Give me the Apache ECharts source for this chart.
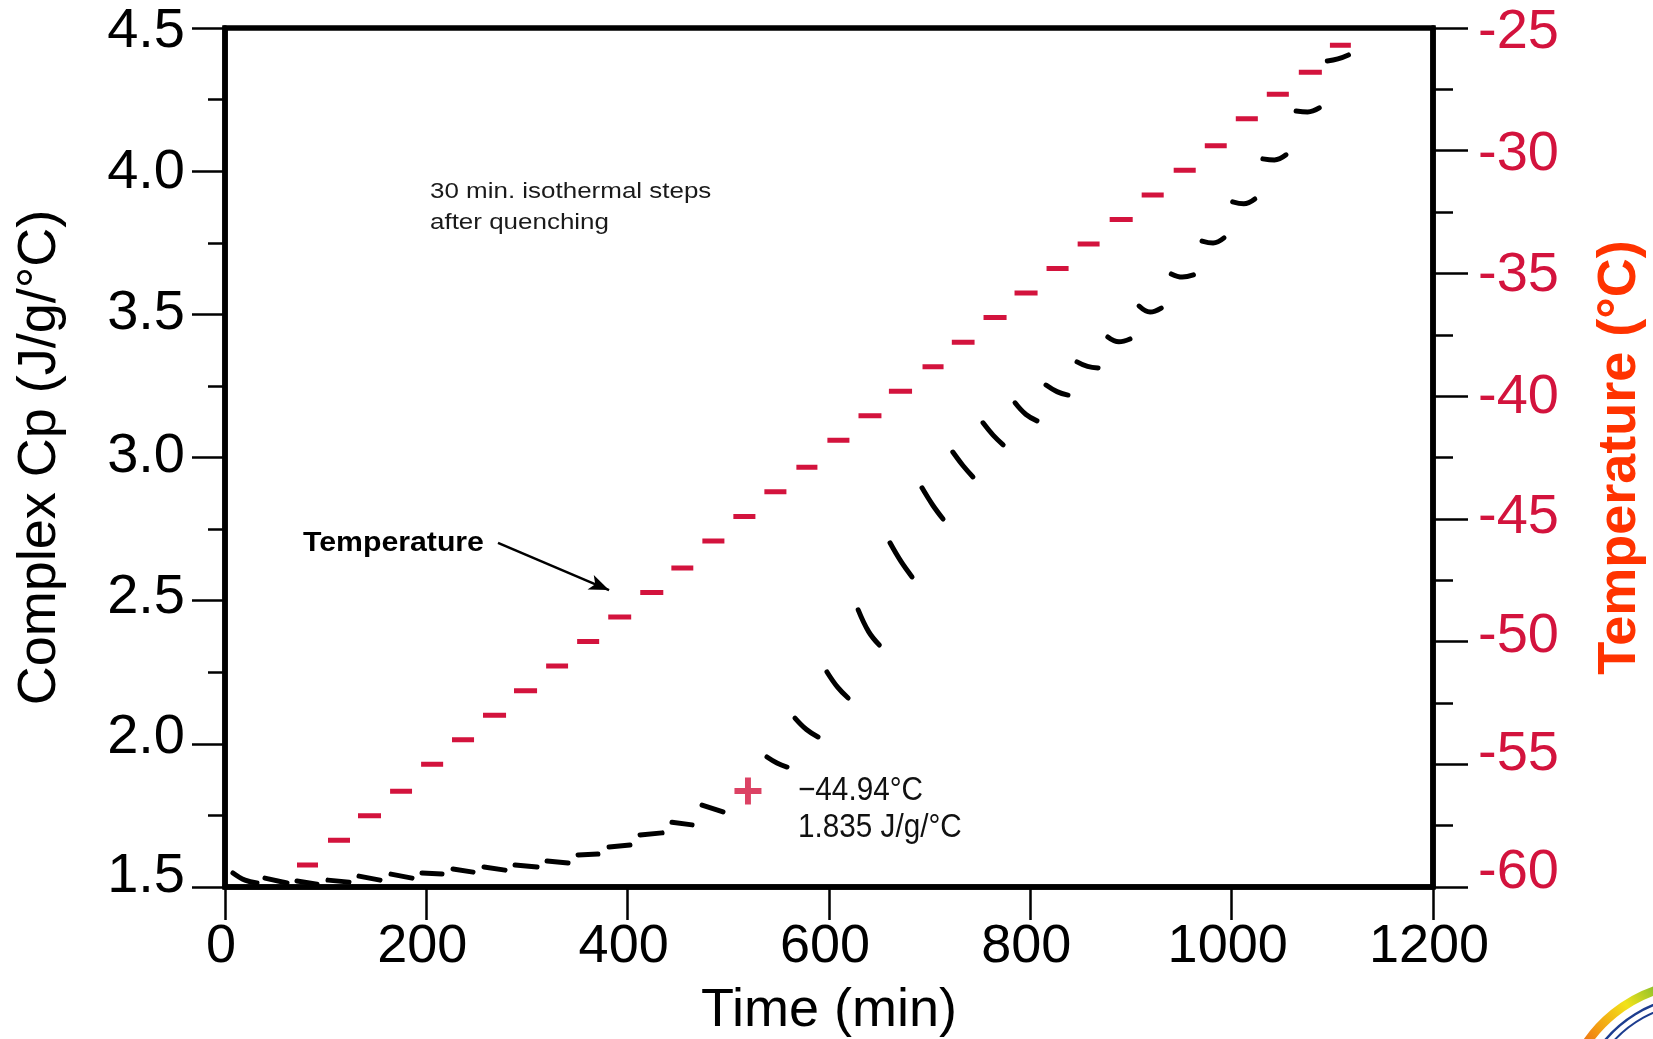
<!DOCTYPE html>
<html><head><meta charset="utf-8">
<script src="https://cdn.jsdelivr.net/npm/echarts@6/dist/echarts.min.js"></script>
<style>html,body{margin:0;padding:0;background:#fff}#c{width:1653px;height:1039px}</style>
</head><body><div id="c"></div>
<script>
const FONT = '"Liberation Sans", Arial, Helvetica, sans-serif';
const RED = '#d3133d';
const TITLE_RED = '#ff3300';

// Temperature steps (red dashes): start time, end time (min), temperature (°C)
const tempStart = [71.5,102.3,132.1,164.0,194.8,225.5,256.3,287.1,319.0,349.8,380.7,412.5,443.4,474.2,505.0,535.8,567.6,598.4,629.3,659.5,692.9,722.0,753.5,784.3,816.1,847.0,878.8,910.6,942.4,973.3,1004.1,1034.9,1066.7,1097.6];
const tempEnd   = [92.4,124.2,155.0,185.8,216.7,247.4,279.2,310.0,340.8,371.7,403.5,435.4,465.2,496.1,526.9,557.7,588.5,620.3,652.1,682.5,713.8,744.6,776.4,807.2,838.0,868.8,901.7,932.5,964.3,995.1,1026.0,1056.8,1089.6,1118.4];
const tempC     = [-59.1,-58.1,-57.1,-56.1,-55.0,-54.0,-53.0,-52.0,-51.0,-50.0,-49.0,-48.0,-47.0,-45.9,-44.9,-43.9,-42.9,-41.8,-40.8,-39.8,-38.8,-37.8,-36.8,-35.8,-34.8,-33.8,-32.8,-31.8,-30.8,-29.8,-28.7,-27.7,-26.8,-25.7];

// Complex Cp segments (one per isothermal step): times (min) and values (J/g/°C)
const cpSegTimes = [
 [7.9,19.9,31.8],[39.7,61.6],[71.5,91.4],[102.3,123.2],[133.1,154.0],[164.9,185.8],[195.7,215.6],
 [226.5,246.4],[257.3,278.2],[288.1,310.0],[319.9,340.8],[350.7,370.5],[381.5,402.3],[412.3,434.2],
 [444.0,464.0],[473.9,494.7],[538.4,548.3,558.3],[566.2,577.6,589.1],[598.0,608.5,619.0],
 [629.0,639.5,650.0],[660.6,671.5,682.5],[692.4,702.8,713.3],[723.0,733.0,743.0],[753.0,763.0,773.0],
 [784.8,795.7,806.6],[815.6,826.5,837.4],[846.4,856.8,867.3],[877.0,888.0,899.0],[908.0,919.0,930.0],
 [940.0,951.0,962.0],[970.6,981.5,992.4],[1001.0,1012.0,1023.0],[1031.0,1042.5,1054.0],
 [1064.0,1075.5,1087.0],[1095.0,1105.5,1116.0]
];
const cpSegValues = [
 [1.549,1.524,1.514],[1.531,1.514],[1.521,1.510],[1.524,1.517],[1.538,1.524],[1.545,1.531],[1.549,1.545],
 [1.563,1.552],[1.570,1.559],[1.577,1.570],[1.591,1.584],[1.612,1.615],[1.640,1.647],[1.682,1.689],
 [1.726,1.717],[1.786,1.762],[1.954,1.933,1.919],[2.090,2.050,2.024],[2.251,2.198,2.160],
 [2.468,2.391,2.345],[2.702,2.637,2.583],[2.894,2.835,2.785],[3.019,2.972,2.932],[3.121,3.078,3.044],
 [3.191,3.150,3.128],[3.253,3.230,3.218],[3.334,3.318,3.313],[3.421,3.404,3.414],[3.529,3.508,3.522],
 [3.641,3.630,3.638],[3.756,3.749,3.767],[3.893,3.886,3.903],[4.043,4.039,4.057],
 [4.210,4.207,4.221],[4.385,4.392,4.406]
];

// Tick values of the two vertical axes
const cpTicks = [1.5, 2.0, 2.5, 3.0, 3.5, 4.0, 4.5];
const tempTicks = [-60, -55, -50, -45, -40, -35, -30, -25];
// Vertical nudge of each tick label in the reference (px, + = down)
const cpLabelNudge = [-10, -6, -3, -1, -1, 1, 4];
const tempLabelNudge = [-14, -10, -5, -1, 1, 2, 4, 5];

// Cursor point and annotation arrow (data coordinates)
const cursorPoint = [519.5, 1.835];
const cursorText = ['\u221244.94\u00B0C', '1.835 J/g/\u00B0C'];
const arrowFrom = [271.2, 2.702];
const arrowTo = [381.5, 2.537];

const GRID_H = 859;
const cpPerPx = (4.5 - 1.5) / GRID_H;
const tempPerPx = (-25 - -60) / GRID_H;
const cpLabelPos = cpTicks.map((v, i) => v - cpLabelNudge[i] * cpPerPx);
const tempLabelPos = tempTicks.map((v, i) => v - tempLabelNudge[i] * tempPerPx);

const tempData = [];
tempStart.forEach((s, i) => {
  tempData.push([s, tempC[i]], [tempEnd[i], tempC[i]], [tempEnd[i], null]);
});
const cpData = [];
cpSegTimes.forEach((ts, i) => {
  ts.forEach((t, j) => cpData.push([t, cpSegValues[i][j]]));
  cpData.push([ts[ts.length - 1], null]);
});

const chart = echarts.init(document.getElementById('c'), null, {renderer: 'canvas'});
const option = {
  animation: false,
  backgroundColor: '#fff',
  textStyle: {fontFamily: FONT},
  grid: {left: 225, top: 28, right: 220, bottom: 152, show: true, borderColor: '#000', borderWidth: 5.5,
         backgroundColor: '#fff', containLabel: false, outerBoundsMode: 'none'},
  xAxis: {
    type: 'value', min: 0, max: 1200, interval: 200,
    name: 'Time (min)', nameLocation: 'middle', nameGap: 97, nameMoveOverlap: false,
    nameTextStyle: {fontSize: 54, color: '#000', fontFamily: FONT},
    axisLine: {show: true, onZero: false, lineStyle: {color: '#000', width: 5.5}},
    axisTick: {show: true, inside: false, length: 33, lineStyle: {color: '#000', width: 2.5}},
    minorTick: {show: false},
    axisLabel: {margin: 33, fontSize: 54, color: '#000', fontFamily: FONT, padding: [0, 8, 0, 0],
                formatter: v => String(v), showMinLabel: true, showMaxLabel: true},
    splitLine: {show: false}
  },
  yAxis: [{
    type: 'value', min: 1.5, max: 4.5, interval: 0.5, position: 'left',
    name: 'Complex Cp (J/g/\u00B0C)', nameLocation: 'middle', nameGap: 158, nameMoveOverlap: false,
    nameTextStyle: {fontSize: 54, color: '#000', fontFamily: FONT},
    axisLine: {show: true, onZero: false, lineStyle: {color: '#000', width: 5.5}},
    axisTick: {show: true, inside: false, length: 33, customValues: cpTicks, lineStyle: {color: '#000', width: 2.5}},
    minorTick: {show: true, splitNumber: 2, length: 17, lineStyle: {color: '#000', width: 2.5}},
    axisLabel: {margin: 40, fontSize: 56, color: '#000', fontFamily: FONT, customValues: cpLabelPos,
                formatter: v => (Math.round(v * 2) / 2).toFixed(1)},
    splitLine: {show: false}, minorSplitLine: {show: false}
  }, {
    type: 'value', min: -60, max: -25, interval: 5, position: 'right',
    name: 'Temperature (\u00B0C)', nameLocation: 'middle', nameGap: 160, nameMoveOverlap: false,
    nameTextStyle: {fontSize: 54, fontWeight: 'bold', color: TITLE_RED, fontFamily: FONT},
    axisLine: {show: true, onZero: false, lineStyle: {color: '#000', width: 5.5}},
    axisTick: {show: true, inside: false, length: 35, customValues: tempTicks, lineStyle: {color: '#000', width: 2.5}},
    minorTick: {show: true, splitNumber: 2, length: 20, lineStyle: {color: '#000', width: 2.5}},
    axisLabel: {margin: 45, fontSize: 56, color: RED, fontFamily: FONT, customValues: tempLabelPos,
                formatter: v => String(Math.round(v / 5) * 5)},
    splitLine: {show: false}, minorSplitLine: {show: false}
  }],
  series: [{
    name: 'Cp', type: 'line', yAxisIndex: 0, data: cpData, showSymbol: false, symbol: 'none',
    smooth: 0.4, connectNulls: false, z: 3,
    lineStyle: {color: '#000', width: 5, cap: 'round'},
    markLine: {
      silent: true, symbol: ['none', 'arrow'], symbolSize: [12, 20], precision: 4,
      lineStyle: {color: '#000', width: 2.5, type: 'solid'}, label: {show: false},
      data: [[{coord: arrowFrom}, {coord: arrowTo}]]
    }
  }, {
    name: 'Temperature', type: 'line', yAxisIndex: 1, data: tempData, showSymbol: false, symbol: 'none',
    connectNulls: false, z: 3,
    lineStyle: {color: RED, width: 5, cap: 'butt'}
  }, {
    name: 'cursor', type: 'scatter', yAxisIndex: 0, data: [cursorPoint], z: 5,
    symbol: 'path://M0,39 L100,39 L100,61 L0,61 Z M39,0 L61,0 L61,100 L39,100 Z',
    symbolSize: 27, itemStyle: {color: RED}
  }],
  graphic: [
    {type: 'text', x: 430, y: 176, scaleX: 1.18, z: 10,
     style: {text: '30 min. isothermal steps\nafter quenching', fontSize: 22, fontFamily: FONT, lineHeight: 31, fill: '#1a1a1a'}},
    {type: 'text', x: 303, y: 529, scaleX: 1.08, z: 10,
     style: {text: 'Temperature', fontSize: 28, fontWeight: 'bold', fontFamily: FONT, fill: '#000'}},
    {type: 'text', x: 798, y: 772, scaleX: 0.9, z: 10,
     style: {text: cursorText.join('\n'), fontSize: 33, fontFamily: FONT, lineHeight: 37, fill: '#111'}},
    {type: 'arc', z: 10, shape: {cx: 1700, cy: 1120, r: 137, startAngle: 200 * Math.PI / 180, endAngle: 262 * Math.PI / 180, clockwise: true},
     style: {fill: 'none', lineWidth: 9,
       stroke: new echarts.graphic.LinearGradient(0, 1, 1, 0, [
         {offset: 0, color: '#e0241b'}, {offset: 0.35, color: '#f39a12'}, {offset: 0.6, color: '#f2e21a'}, {offset: 1, color: '#3aa53a'}])}},
    {type: 'arc', z: 10, shape: {cx: 1700, cy: 1120, r: 124, startAngle: 215 * Math.PI / 180, endAngle: 262 * Math.PI / 180, clockwise: true},
     style: {fill: 'none', lineWidth: 2.5, stroke: '#1d3d8f'}},
    {type: 'arc', z: 10, shape: {cx: 1700, cy: 1120, r: 117, startAngle: 220 * Math.PI / 180, endAngle: 262 * Math.PI / 180, clockwise: true},
     style: {fill: 'none', lineWidth: 2, stroke: '#1d3d8f'}}
  ]
};
chart.setOption(option);
</script>
</body></html>
